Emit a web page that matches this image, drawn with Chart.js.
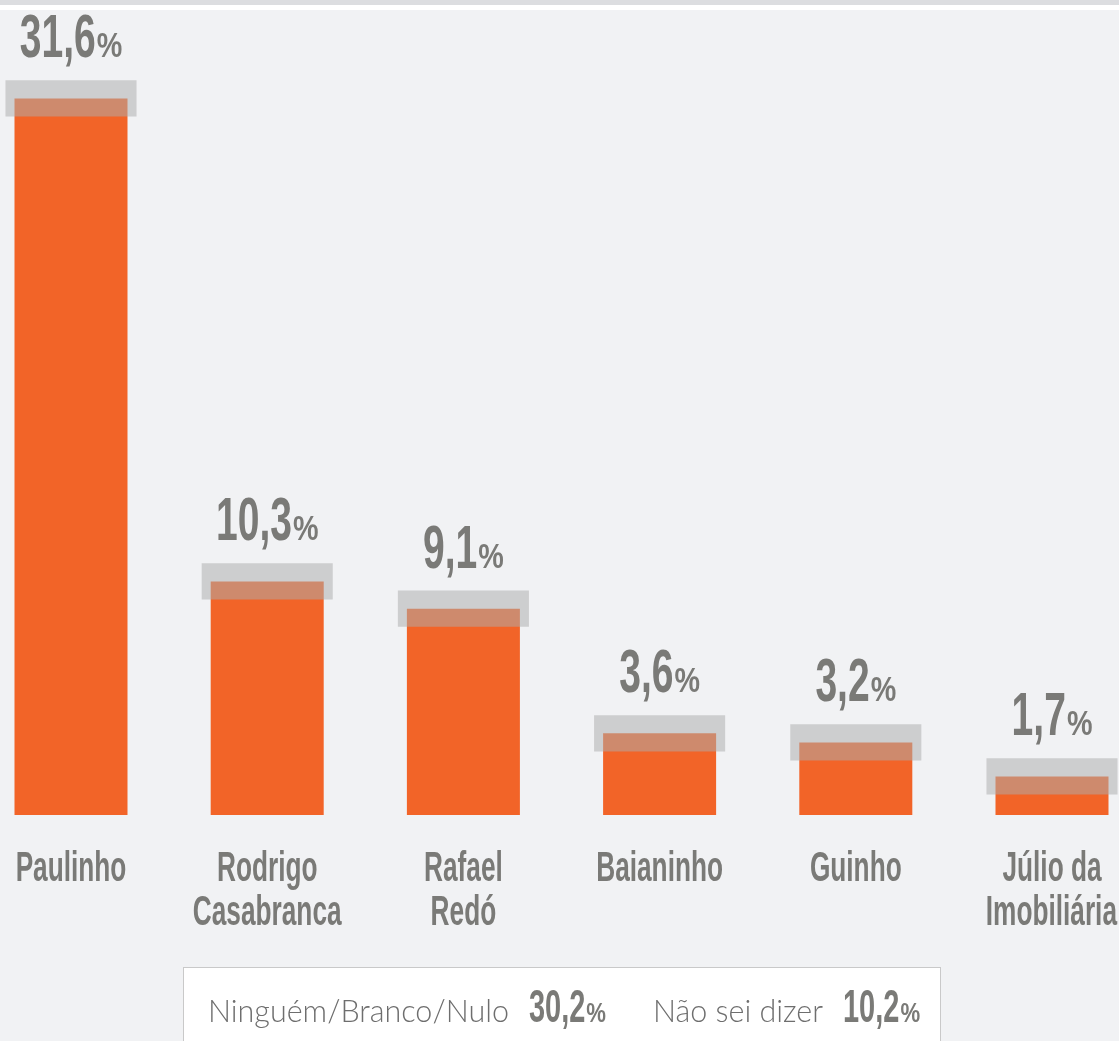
<!DOCTYPE html>
<html lang="pt-BR">
<head>
<meta charset="utf-8">
<title>Intenção de voto</title>
<script src="https://cdn.jsdelivr.net/npm/chart.js@4.4.1/dist/chart.umd.min.js"></script>
<style>
  html, body { margin: 0; padding: 0; }
  body { width: 1119px; height: 1041px; overflow: hidden; background: #f1f2f4; position: relative; }
  .faixa { position: absolute; left: 0; top: 0; width: 100%; height: 5px; background: #dcdde0; }
  .filete { position: absolute; left: 0; top: 5px; width: 100%; height: 5px; background: #fff; }
  #wrap { position: absolute; left: 0; top: 0; width: 1119px; height: 1041px; }
</style>
</head>
<body>
<div class="faixa"></div>
<div class="filete"></div>
<div id="wrap"><canvas id="grafico"></canvas></div>
<script>
// dados da pesquisa
const candidatos = [["Paulinho"], ["Rodrigo", "Casabranca"], ["Rafael", "Redó"], ["Baianinho"], ["Guinho"], ["Júlio da", "Imobiliária"]];
const percentuais = [31.6, 10.3, 9.1, 3.6, 3.2, 1.7];
const margem = 0.8;
const outrosRotulos = ["Ninguém/Branco/Nulo", "Não sei dizer"];
const outrosValores = [30.2, 10.2];

const cinza = "#7a7a77";
const laranja = "#f26428";

const fmt = (v) => v.toFixed(1).replace(".", ",");

// texto "condensado" (não há fonte estreita instalada)
const larguraTexto = (ctx, txt, font, sx) => {
	ctx.save();
	ctx.font = font;
	const w = ctx.measureText(txt).width * sx;
	ctx.restore();
	return w;
};
const escreve = (ctx, txt, x, y, font, sx) => {
	ctx.save();
	ctx.font = font;
	ctx.translate(x, y);
	ctx.scale(sx, 1);
	ctx.textAlign = "left";
	ctx.textBaseline = "alphabetic";
	ctx.fillText(txt, 0, 0);
	ctx.restore();
};
const FONTE = "'Liberation Sans', Arial, sans-serif";

// numero grande + % pequeno
const escrevePct = (ctx, v, cx, y, tamNum, tamPct, alinhar) => {
	const num = fmt(v);
	const fNum = "bold " + tamNum + "px " + FONTE;
	const fPct = "bold " + tamPct + "px " + FONTE;
	const wNum = larguraTexto(ctx, num, fNum, 0.63);
	const wPct = larguraTexto(ctx, "%", fPct, 0.82);
	const total = wNum + 1 + wPct;
	const x0 = alinhar === "left" ? cx : cx - total / 2;
	escreve(ctx, num, x0, y, fNum, 0.63);
	escreve(ctx, "%", x0 + wNum + 1, y, fPct, 0.82);
	return total;
};

const rotulos = {
	id: "rotulos",
	afterDatasetsDraw(chart) {
		const ctx = chart.ctx;
		const xs = chart.scales.x;
		const ys = chart.scales.y;
		ctx.save();
		ctx.fillStyle = cinza;
		percentuais.forEach((v, i) => {
			const cx = xs.getPixelForValue(i);
			const topo = ys.getPixelForValue(v + margem);
			escrevePct(ctx, v, cx, topo - 23, 62, 35, "center");

			// nome do candidato
			const f = "bold 43px " + FONTE;
			candidatos[i].forEach((linha, k) => {
				const w = larguraTexto(ctx, linha, f, 0.61);
				escreve(ctx, linha, Math.min(cx - w / 2, chart.width - 2 - w), ys.bottom + 66 + k * 44, f, 0.61);
			});
		});
		ctx.restore();
	},
	afterDraw(chart) {
		// caixa com os demais
		const ctx = chart.ctx;
		ctx.save();
		ctx.fillStyle = "#ffffff";
		ctx.fillRect(183, 967, 758, 100);
		ctx.strokeStyle = "#c9c9c9";
		ctx.lineWidth = 1;
		ctx.strokeRect(183.5, 967.5, 757, 100);
		const inicio = [208, 653];
		outrosRotulos.forEach((r, i) => {
			ctx.fillStyle = "#6e6e6e";
			ctx.font = "300 30.5px Lato, 'Noto Sans', sans-serif";
			ctx.textBaseline = "alphabetic";
			ctx.fillText(r, inicio[i], 1022);
			const w = ctx.measureText(r).width;
			ctx.fillStyle = cinza;
			escrevePct(ctx, outrosValores[i], inicio[i] + w + 20, 1022, 46, 27, "left");
		});
		ctx.restore();
	},
};

new Chart(document.getElementById("grafico"), {
	type: "bar",
	data: {
		labels: candidatos,
		datasets: [
			{
				label: "Margem de erro",
				data: percentuais.map((v) => [v - margem, v + margem]),
				backgroundColor: "rgba(172, 172, 172, 0.52)",
				grouped: false,
				categoryPercentage: 1,
				barPercentage: 0.668,
				order: 0,
				clip: false,
			},
			{
				label: "Intenção de voto",
				data: percentuais,
				backgroundColor: laranja,
				grouped: false,
				categoryPercentage: 1,
				barPercentage: 0.576,
				order: 1,
				clip: false,
			},
		],
	},
	options: {
		responsive: true,
		maintainAspectRatio: false,
		animation: false,
		layout: { padding: { top: 10, bottom: 226, left: 71, right: 67 } },
		plugins: {
			legend: { display: false },
			tooltip: { enabled: false },
		},
		scales: {
			x: { type: "category", offset: false, display: false },
			y: { display: false, min: 0, max: 35.5 },
		},
	},
	plugins: [rotulos],
});
</script>
</body>
</html>
